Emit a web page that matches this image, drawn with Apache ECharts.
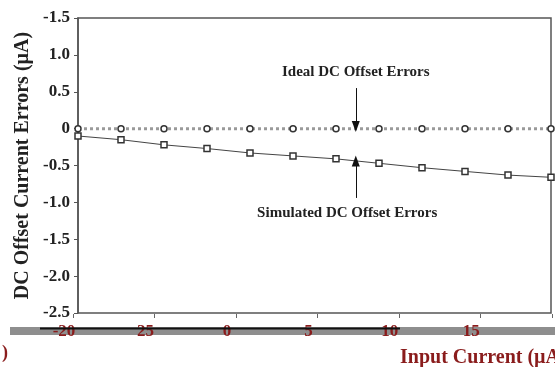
<!DOCTYPE html>
<html>
<head>
<meta charset="utf-8">
<script src="https://cdn.jsdelivr.net/npm/echarts@6/dist/echarts.min.js"></script>
<style>
  html, body { margin: 0; padding: 0; background: #fff; }
  #chart { width: 555px; height: 367px; }
</style>
</head>
<body>
<div id="chart"></div>
<script>
// Input current sweep (µA)
const inputCurrent = [-20, -15, -10, -5, 0, 5, 10, 15, 20, 25, 30, 35];
// Ideal DC offset error: zero everywhere
const idealErrors = [0, 0, 0, 0, 0, 0, 0, 0, 0, 0, 0, 0];
// Simulated DC offset error (µA)
const simulatedErrors = [-0.10, -0.15, -0.22, -0.27, -0.33, -0.37, -0.41, -0.47, -0.53, -0.58, -0.63, -0.66];
// Y tick labels, bottom to top
const yTickLabels = ['-2.5', '-2.0', '-1.5', '-1.0', '-0.5', '0', '0.5', '1.0', '-1.5'];
// Lower axis tick labels
const xTickLabels = ['-20', '25', '0', '5', '10', '15'];

const serif = '"Liberation Serif", "DejaVu Serif", serif';
const chart = echarts.init(document.getElementById('chart'), null, { renderer: 'canvas' });

const pairs = (ys) => inputCurrent.map((x, i) => [x, ys[i]]);

chart.setOption({
  animation: false,
  backgroundColor: '#fff',
  title: {
    text: 'Input Current (µA)',
    left: 395, top: 343,
    textStyle: { fontFamily: serif, fontWeight: 'bold', fontSize: 20, color: '#8a1c1c' }
  },
  graphic: [
    { type: 'rect', shape: { x: 10, y: 327, width: 545, height: 8 }, style: { fill: '#8e8e8e' }, z: 0 },
    { type: 'line', shape: { x1: 40, y1: 328.5, x2: 400, y2: 328.5 }, style: { stroke: '#111', lineWidth: 2 }, z: 1 },
    { type: 'text', left: 2, top: 344, style: { text: ')', font: 'bold 18px ' + serif, fill: '#8a1c1c' } }
  ],
  grid: [
    { left: 78, right: 4, top: 18, bottom: 54, show: true, borderColor: '#555', borderWidth: 1.5 },
    { left: 73, right: 0, top: 313, height: 1 }
  ],
  xAxis: [
    {
      type: 'value', gridIndex: 0, min: -20, max: 35,
      axisLine: { show: false }, axisTick: { show: false },
      axisLabel: { show: false }, splitLine: { show: false }
    },
    {
      type: 'value', gridIndex: 1, min: 0, max: 5.88, interval: 1,
      axisLine: { show: false },
      axisTick: { show: true, length: 4, lineStyle: { color: '#666', width: 1 } },
      axisLabel: {
        margin: 9, fontFamily: serif, fontWeight: 'bold', fontSize: 17, color: '#8a1c1c',
        padding: [0, 18, 0, 0],
        formatter: (v) => xTickLabels[Math.round(v)] ?? ''
      },
      splitLine: { show: false }
    }
  ],
  yAxis: [
    {
      type: 'value', gridIndex: 0, min: -2.5, max: 1.5, interval: 0.5,
      name: 'DC Offset Current Errors (µA)',
      nameLocation: 'middle', nameGap: 45, nameRotate: 90, nameMoveOverlap: false,
      nameTextStyle: { fontFamily: serif, fontWeight: 'bold', fontSize: 20, color: '#222' },
      axisLine: { show: true, onZero: false, lineStyle: { color: '#555', width: 1.5 } },
      axisTick: { show: true, inside: false, length: 4, lineStyle: { color: '#555' } },
      axisLabel: {
        margin: 8, fontFamily: serif, fontWeight: 'bold', fontSize: 17, color: '#222',
        formatter: (v) => yTickLabels[Math.round((v + 2.5) / 0.5)]
      },
      splitLine: { show: false }
    },
    { type: 'value', gridIndex: 1, show: false }
  ],
  series: [
    {
      name: 'Ideal DC Offset Errors',
      type: 'line', xAxisIndex: 0, yAxisIndex: 0,
      data: pairs(idealErrors),
      symbol: 'circle', symbolSize: 6,
      itemStyle: { color: '#fff', borderColor: '#333', borderWidth: 1.5 },
      lineStyle: { color: '#9a9a9a', width: 3, type: 'dotted' },
      markLine: {
        silent: true, animation: false,
        lineStyle: { color: '#111', width: 1, type: 'solid' },
        label: { show: false },
        data: [[
          { coord: [12.3, 0.55], symbol: 'none' },
          { coord: [12.3, 0.03], symbol: 'triangle', symbolSize: [8, 11] }
        ]]
      },
      markPoint: {
        silent: true,
        symbol: 'circle', symbolSize: 0,
        label: { show: true, position: 'inside', fontFamily: serif, fontWeight: 'bold', fontSize: 15, color: '#222' },
        data: [{ coord: [12.3, 0.76], value: 'Ideal DC Offset Errors', label: { formatter: 'Ideal DC Offset Errors' } }]
      }
    },
    {
      name: 'Simulated DC Offset Errors',
      type: 'line', xAxisIndex: 0, yAxisIndex: 0,
      data: pairs(simulatedErrors),
      symbol: 'rect', symbolSize: 6,
      itemStyle: { color: '#fff', borderColor: '#333', borderWidth: 1.5 },
      lineStyle: { color: '#444', width: 1 },
      markLine: {
        silent: true, animation: false,
        lineStyle: { color: '#111', width: 1, type: 'solid' },
        label: { show: false },
        data: [[
          { coord: [12.3, -0.94], symbol: 'none' },
          { coord: [12.3, -0.44], symbol: 'triangle', symbolSize: [8, 11] }
        ]]
      },
      markPoint: {
        silent: true,
        symbol: 'circle', symbolSize: 0,
        label: { show: true, position: 'inside', fontFamily: serif, fontWeight: 'bold', fontSize: 15, color: '#222' },
        data: [{ coord: [11.3, -1.15], value: 'Simulated DC Offset Errors', label: { formatter: 'Simulated DC Offset Errors' } }]
      }
    }
  ]
});
</script>
</body>
</html>
